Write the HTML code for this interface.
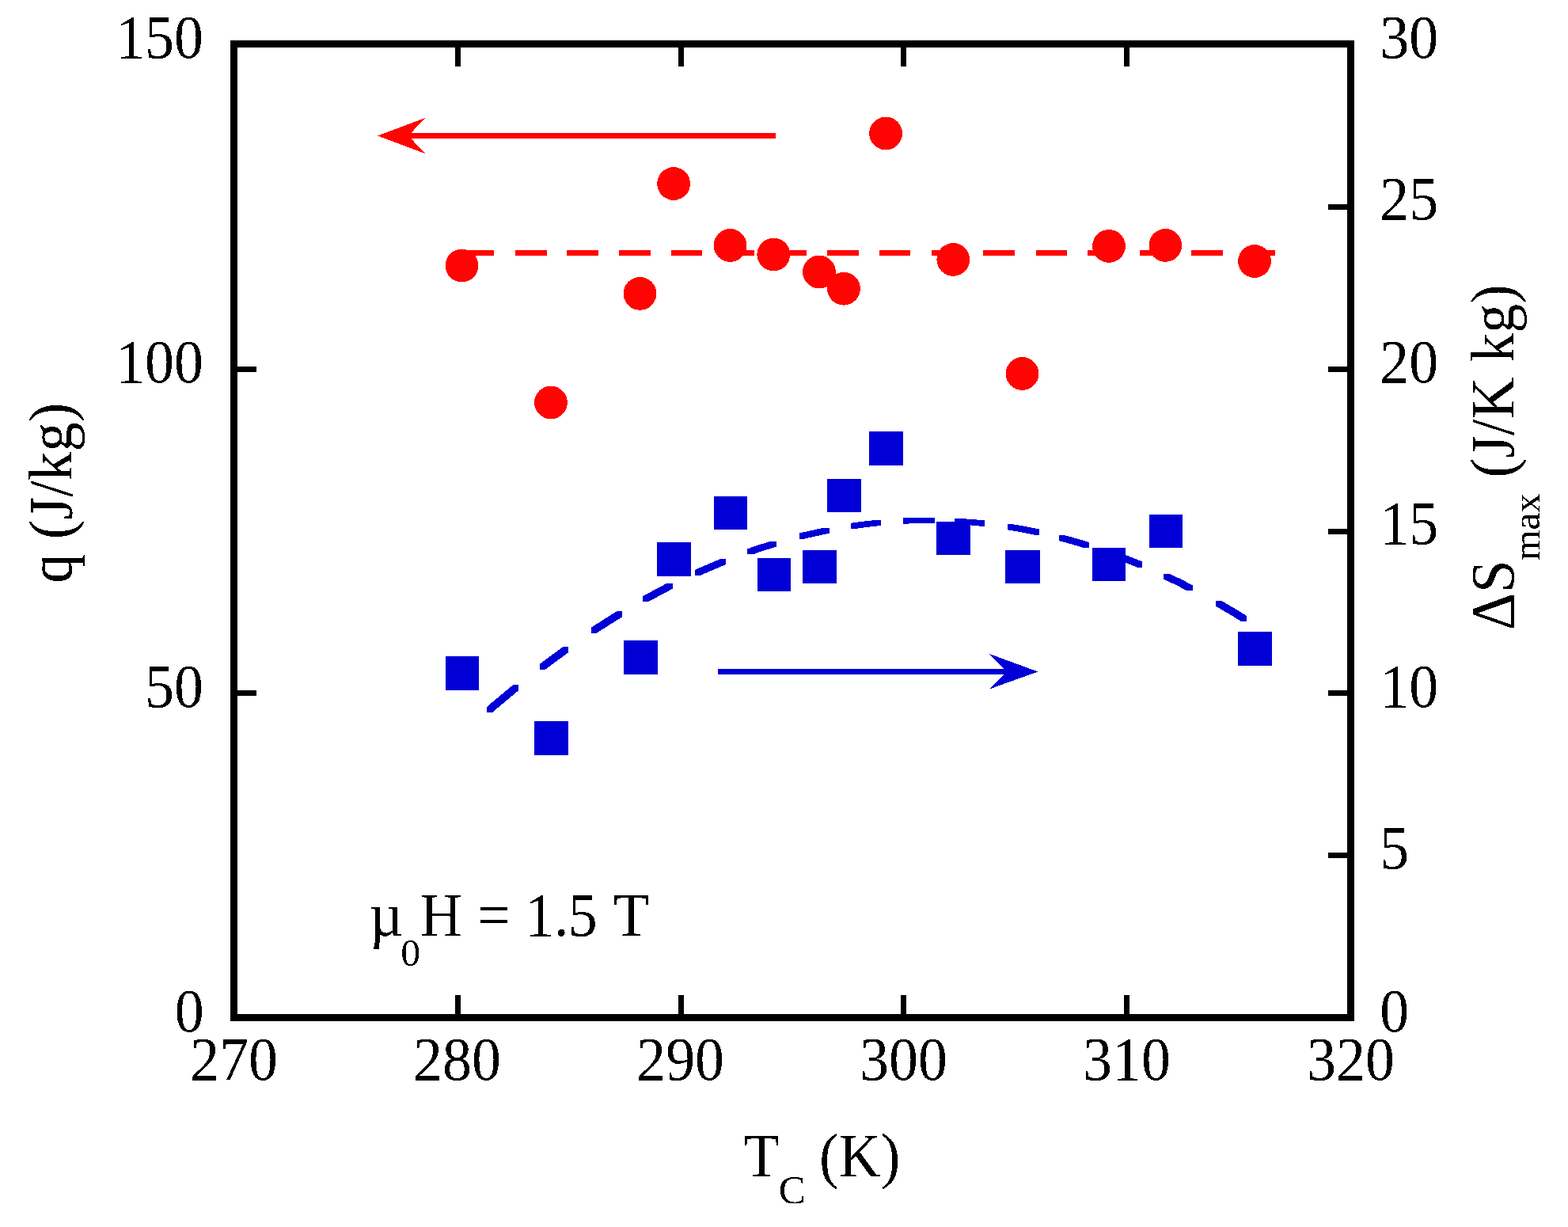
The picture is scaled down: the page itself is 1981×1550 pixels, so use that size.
<!DOCTYPE html>
<html lang="en">
<head>
<meta charset="utf-8">
<title>q and ΔSmax versus TC</title>
<style>
html,body{margin:0;padding:0;background:#fff;}
body{width:1981px;height:1550px;overflow:hidden;}
svg{display:block;}
</style>
</head>
<body>
<svg width="1981" height="1550" viewBox="0 0 1981 1550">
<rect x="0" y="0" width="1981" height="1550" fill="#fff"/>
<g shape-rendering="crispEdges">
<rect x="291" y="51" width="1420" height="9" fill="#000"/>
<rect x="291" y="1281" width="1420" height="9" fill="#000"/>
<rect x="291" y="51" width="9" height="1239" fill="#000"/>
<rect x="1702" y="51" width="9" height="1239" fill="#000"/>
<rect x="575" y="60" width="7" height="24" fill="#000"/>
<rect x="575" y="1257" width="7" height="24" fill="#000"/>
<rect x="857" y="60" width="7" height="24" fill="#000"/>
<rect x="857" y="1257" width="7" height="24" fill="#000"/>
<rect x="1138" y="60" width="7" height="24" fill="#000"/>
<rect x="1138" y="1257" width="7" height="24" fill="#000"/>
<rect x="1420" y="60" width="7" height="24" fill="#000"/>
<rect x="1420" y="1257" width="7" height="24" fill="#000"/>
<rect x="300" y="463" width="24" height="7" fill="#000"/>
<rect x="300" y="872" width="24" height="7" fill="#000"/>
<rect x="1678" y="258" width="24" height="7" fill="#000"/>
<rect x="1678" y="463" width="24" height="7" fill="#000"/>
<rect x="1678" y="668" width="24" height="7" fill="#000"/>
<rect x="1678" y="872" width="24" height="7" fill="#000"/>
<rect x="1678" y="1077" width="24" height="7" fill="#000"/>
</g>
<g shape-rendering="crispEdges">
<rect x="584" y="316" width="40" height="7" fill="#ff0402"/>
<rect x="651" y="316" width="40" height="7" fill="#ff0402"/>
<rect x="716" y="316" width="40" height="7" fill="#ff0402"/>
<rect x="782" y="316" width="40" height="7" fill="#ff0402"/>
<rect x="848" y="316" width="39" height="7" fill="#ff0402"/>
<rect x="913" y="316" width="40" height="7" fill="#ff0402"/>
<rect x="979" y="316" width="40" height="7" fill="#ff0402"/>
<rect x="1045" y="316" width="40" height="7" fill="#ff0402"/>
<rect x="1111" y="316" width="39" height="7" fill="#ff0402"/>
<rect x="1177" y="316" width="39" height="7" fill="#ff0402"/>
<rect x="1242" y="316" width="40" height="7" fill="#ff0402"/>
<rect x="1309" y="316" width="39" height="7" fill="#ff0402"/>
<rect x="1374" y="316" width="40" height="7" fill="#ff0402"/>
<rect x="1440" y="316" width="39" height="7" fill="#ff0402"/>
<rect x="1505" y="316" width="40" height="7" fill="#ff0402"/>
<rect x="1571" y="316" width="40" height="7" fill="#ff0402"/>
<rect x="515" y="168" width="465" height="7" fill="#ff0402"/>
<polygon points="477,171.5 537,149 516,171.5 537,194" fill="#ff0402"/>
<rect x="907" y="845" width="365" height="7" fill="#0000d6"/>
<polygon points="1311.3,848.5 1250,826 1272,848.5 1250,870.5" fill="#0000d6"/>
<path d="M615.0,893.1 L623.2,886.0 L630.2,886.0 L630.2,893.0 L622.0,900.1 L615.0,900.1Z M623.2,886.0 L631.5,879.0 L638.5,879.0 L638.5,886.0 L630.2,893.0 L623.2,893.0Z M631.5,879.0 L639.8,872.2 L646.8,872.2 L646.8,879.2 L638.5,886.0 L631.5,886.0Z M639.8,872.2 L648.0,865.4 L655.0,865.4 L655.0,872.4 L646.8,879.2 L639.8,879.2Z" fill="#0000d6"/>
<path d="M682.0,838.7 L689.2,833.3 L696.2,833.3 L696.2,840.3 L689.0,845.7 L682.0,845.7Z M689.2,833.3 L696.5,827.9 L703.5,827.9 L703.5,834.9 L696.2,840.3 L689.2,840.3Z M696.5,827.9 L703.8,822.6 L710.8,822.6 L710.8,829.6 L703.5,834.9 L696.5,834.9Z M703.8,822.6 L711.0,817.4 L718.0,817.4 L718.0,824.4 L710.8,829.6 L703.8,829.6Z" fill="#0000d6"/>
<path d="M747.0,792.7 L755.0,787.5 L762.0,787.5 L762.0,794.5 L754.0,799.7 L747.0,799.7Z M755.0,787.5 L763.0,782.4 L770.0,782.4 L770.0,789.4 L762.0,794.5 L755.0,794.5Z M763.0,782.4 L771.0,777.3 L778.0,777.3 L778.0,784.3 L770.0,789.4 L763.0,789.4Z M771.0,777.3 L779.0,772.4 L786.0,772.4 L786.0,779.4 L778.0,784.3 L771.0,784.3Z" fill="#0000d6"/>
<path d="M812.0,753.2 L819.8,749.0 L826.8,749.0 L826.8,756.0 L819.0,760.2 L812.0,760.2Z M819.8,749.0 L827.5,744.8 L834.5,744.8 L834.5,751.8 L826.8,756.0 L819.8,756.0Z M827.5,744.8 L835.2,740.7 L842.2,740.7 L842.2,747.7 L834.5,751.8 L827.5,751.8Z M835.2,740.7 L843.0,736.7 L850.0,736.7 L850.0,743.7 L842.2,747.7 L835.2,747.7Z" fill="#0000d6"/>
<path d="M878.0,719.9 L886.0,716.3 L893.0,716.3 L893.0,723.3 L885.0,726.9 L878.0,726.9Z M886.0,716.3 L894.0,712.9 L901.0,712.9 L901.0,719.9 L893.0,723.3 L886.0,723.3Z M894.0,712.9 L902.0,709.5 L909.0,709.5 L909.0,716.5 L901.0,719.9 L894.0,719.9Z M902.0,709.5 L910.0,706.2 L917.0,706.2 L917.0,713.2 L909.0,716.5 L902.0,716.5Z" fill="#0000d6"/>
<path d="M944.0,693.4 L951.5,690.8 L958.5,690.8 L958.5,697.8 L951.0,700.4 L944.0,700.4Z M951.5,690.8 L959.0,688.3 L966.0,688.3 L966.0,695.3 L958.5,697.8 L951.5,697.8Z M959.0,688.3 L966.5,685.9 L973.5,685.9 L973.5,692.9 L966.0,695.3 L959.0,695.3Z M966.5,685.9 L974.0,683.6 L981.0,683.6 L981.0,690.6 L973.5,692.9 L966.5,692.9Z" fill="#0000d6"/>
<path d="M1010.0,673.6 L1017.8,671.7 L1024.8,671.7 L1024.8,678.7 L1017.0,680.6 L1010.0,680.6Z M1017.8,671.7 L1025.5,670.0 L1032.5,670.0 L1032.5,677.0 L1024.8,678.7 L1017.8,678.7Z M1025.5,670.0 L1033.2,668.3 L1040.2,668.3 L1040.2,675.3 L1032.5,677.0 L1025.5,677.0Z M1033.2,668.3 L1041.0,666.7 L1048.0,666.7 L1048.0,673.7 L1040.2,675.3 L1033.2,675.3Z" fill="#0000d6"/>
<path d="M1075.0,660.8 L1082.8,659.7 L1089.8,659.7 L1089.8,666.7 L1082.0,667.8 L1075.0,667.8Z M1082.8,659.7 L1090.5,658.7 L1097.5,658.7 L1097.5,665.7 L1089.8,666.7 L1082.8,666.7Z M1090.5,658.7 L1098.2,657.8 L1105.2,657.8 L1105.2,664.8 L1097.5,665.7 L1090.5,665.7Z M1098.2,657.8 L1106.0,657.0 L1113.0,657.0 L1113.0,664.0 L1105.2,664.8 L1098.2,664.8Z" fill="#0000d6"/>
<path d="M1141.0,654.5 L1149.2,654.2 L1156.2,654.2 L1156.2,661.2 L1148.0,661.5 L1141.0,661.5Z M1149.2,654.2 L1157.5,654.0 L1164.5,654.0 L1164.5,661.0 L1156.2,661.2 L1149.2,661.2Z M1157.5,654.0 L1165.8,653.9 L1172.8,653.9 L1172.8,660.9 L1164.5,661.0 L1157.5,661.0Z M1165.8,653.9 L1172.8,653.9 L1181.0,653.9 L1181.0,660.9 L1174.0,660.9 L1165.8,660.9Z" fill="#0000d6"/>
<path d="M1206.0,655.0 L1213.0,655.0 L1220.8,655.5 L1220.8,662.5 L1213.8,662.5 L1206.0,662.0Z M1213.8,655.5 L1220.8,655.5 L1228.5,656.1 L1228.5,663.1 L1221.5,663.1 L1213.8,662.5Z M1221.5,656.1 L1228.5,656.1 L1236.2,656.7 L1236.2,663.7 L1229.2,663.7 L1221.5,663.1Z M1229.2,656.7 L1236.2,656.7 L1244.0,657.5 L1244.0,664.5 L1237.0,664.5 L1229.2,663.7Z" fill="#0000d6"/>
<path d="M1273.0,662.3 L1280.0,662.3 L1288.2,663.7 L1288.2,670.7 L1281.2,670.7 L1273.0,669.3Z M1281.2,663.7 L1288.2,663.7 L1296.5,665.2 L1296.5,672.2 L1289.5,672.2 L1281.2,670.7Z M1289.5,665.2 L1296.5,665.2 L1304.8,666.8 L1304.8,673.8 L1297.8,673.8 L1289.5,672.2Z M1297.8,666.8 L1304.8,666.8 L1313.0,668.5 L1313.0,675.5 L1306.0,675.5 L1297.8,673.8Z" fill="#0000d6"/>
<path d="M1338.0,676.2 L1345.0,676.2 L1352.8,678.3 L1352.8,685.3 L1345.8,685.3 L1338.0,683.2Z M1345.8,678.3 L1352.8,678.3 L1360.5,680.4 L1360.5,687.4 L1353.5,687.4 L1345.8,685.3Z M1353.5,680.4 L1360.5,680.4 L1368.2,682.7 L1368.2,689.7 L1361.2,689.7 L1353.5,687.4Z M1361.2,682.7 L1368.2,682.7 L1376.0,685.1 L1376.0,692.1 L1369.0,692.1 L1361.2,689.7Z" fill="#0000d6"/>
<path d="M1404.0,696.9 L1411.0,696.9 L1419.0,699.9 L1419.0,706.9 L1412.0,706.9 L1404.0,703.9Z M1412.0,699.9 L1419.0,699.9 L1427.0,703.0 L1427.0,710.0 L1420.0,710.0 L1412.0,706.9Z M1420.0,703.0 L1427.0,703.0 L1435.0,706.2 L1435.0,713.2 L1428.0,713.2 L1420.0,710.0Z M1428.0,706.2 L1435.0,706.2 L1443.0,709.5 L1443.0,716.5 L1436.0,716.5 L1428.0,713.2Z" fill="#0000d6"/>
<path d="M1470.0,724.5 L1477.0,724.5 L1484.5,728.1 L1484.5,735.1 L1477.5,735.1 L1470.0,731.5Z M1477.5,728.1 L1484.5,728.1 L1492.0,731.7 L1492.0,738.7 L1485.0,738.7 L1477.5,735.1Z M1485.0,731.7 L1492.0,731.7 L1499.5,735.5 L1499.5,742.5 L1492.5,742.5 L1485.0,738.7Z M1492.5,735.5 L1499.5,735.5 L1507.0,739.3 L1507.0,746.3 L1500.0,746.3 L1492.5,742.5Z" fill="#0000d6"/>
<path d="M1536.0,758.9 L1543.0,758.9 L1551.0,763.5 L1551.0,770.5 L1544.0,770.5 L1536.0,765.9Z M1544.0,763.5 L1551.0,763.5 L1559.0,768.2 L1559.0,775.2 L1552.0,775.2 L1544.0,770.5Z M1552.0,768.2 L1559.0,768.2 L1567.0,773.0 L1567.0,780.0 L1560.0,780.0 L1552.0,775.2Z M1560.0,773.0 L1567.0,773.0 L1575.0,778.0 L1575.0,785.0 L1568.0,785.0 L1560.0,780.0Z" fill="#0000d6"/>
<rect x="563" y="829" width="42" height="43" fill="#0000d6"/>
<rect x="675" y="911" width="43" height="43" fill="#0000d6"/>
<rect x="788" y="809" width="43" height="43" fill="#0000d6"/>
<rect x="830" y="685" width="43" height="43" fill="#0000d6"/>
<rect x="902" y="627" width="42" height="42" fill="#0000d6"/>
<rect x="957" y="705" width="42" height="42" fill="#0000d6"/>
<rect x="1014" y="695" width="43" height="42" fill="#0000d6"/>
<rect x="1045" y="605" width="43" height="42" fill="#0000d6"/>
<rect x="1098" y="545" width="43" height="43" fill="#0000d6"/>
<rect x="1183" y="659" width="43" height="42" fill="#0000d6"/>
<rect x="1270" y="695" width="44" height="42" fill="#0000d6"/>
<rect x="1380" y="692" width="42" height="42" fill="#0000d6"/>
<rect x="1452" y="650" width="42" height="42" fill="#0000d6"/>
<rect x="1564" y="798" width="43" height="43" fill="#0000d6"/>
<circle cx="583.5" cy="335.5" r="20.9" fill="#ff0402"/>
<circle cx="696" cy="508.5" r="20.9" fill="#ff0402"/>
<circle cx="808.5" cy="370.9" r="20.9" fill="#ff0402"/>
<circle cx="851.1" cy="232" r="20.9" fill="#ff0402"/>
<circle cx="922.5" cy="310" r="20.9" fill="#ff0402"/>
<circle cx="977.3" cy="321.5" r="20.9" fill="#ff0402"/>
<circle cx="1035" cy="343.5" r="20.9" fill="#ff0402"/>
<circle cx="1066" cy="364.7" r="20.9" fill="#ff0402"/>
<circle cx="1119.1" cy="168.5" r="20.9" fill="#ff0402"/>
<circle cx="1204.3" cy="327.9" r="20.9" fill="#ff0402"/>
<circle cx="1291.5" cy="472" r="20.9" fill="#ff0402"/>
<circle cx="1401" cy="310.9" r="20.9" fill="#ff0402"/>
<circle cx="1472.4" cy="309.9" r="20.9" fill="#ff0402"/>
<circle cx="1585" cy="330" r="20.9" fill="#ff0402"/>
</g>
<defs><filter id="bw" x="-5%" y="-5%" width="110%" height="110%" color-interpolation-filters="sRGB"><feComponentTransfer><feFuncA type="discrete" tableValues="0 1"/></feComponentTransfer></filter></defs>
<g font-family='"Liberation Serif", serif' fill="#000" style="white-space:pre" filter="url(#bw)">
<text transform="translate(257,73) scale(0.956,1)" font-size="77.3" text-anchor="end">150</text>
<text transform="translate(257,483) scale(0.956,1)" font-size="77.3" text-anchor="end">100</text>
<text transform="translate(257,893) scale(0.956,1)" font-size="77.3" text-anchor="end">50</text>
<text transform="translate(257.8,1303) scale(0.956,1)" font-size="77.3" text-anchor="end">0</text>
<text transform="translate(1743.2,73) scale(0.956,1)" font-size="77.3" text-anchor="start">30</text>
<text transform="translate(1743.2,277) scale(0.956,1)" font-size="77.3" text-anchor="start">25</text>
<text transform="translate(1743.2,483) scale(0.956,1)" font-size="77.3" text-anchor="start">20</text>
<text transform="translate(1743.2,687) scale(0.956,1)" font-size="77.3" text-anchor="start">15</text>
<text transform="translate(1743.2,893) scale(0.956,1)" font-size="77.3" text-anchor="start">10</text>
<text transform="translate(1743.2,1097) scale(0.956,1)" font-size="77.3" text-anchor="start">5</text>
<text transform="translate(1743.2,1303) scale(0.956,1)" font-size="77.3" text-anchor="start">0</text>
<text transform="translate(295.6,1364) scale(0.956,1)" font-size="77.3" text-anchor="middle">270</text>
<text transform="translate(577.5,1364) scale(0.956,1)" font-size="77.3" text-anchor="middle">280</text>
<text transform="translate(859.6,1364) scale(0.956,1)" font-size="77.3" text-anchor="middle">290</text>
<text transform="translate(1141.4,1364) scale(0.956,1)" font-size="77.3" text-anchor="middle">300</text>
<text transform="translate(1423.5,1364) scale(0.956,1)" font-size="77.3" text-anchor="middle">310</text>
<text transform="translate(1706.5,1364) scale(0.956,1)" font-size="77.3" text-anchor="middle">320</text>
<text transform="translate(939.5,1486) scale(0.956,1)" font-size="77.3" text-anchor="start">T</text>
<text transform="translate(983.7,1519.7) scale(1,1)" font-size="51" text-anchor="start">C</text>
<text transform="translate(1034.9,1486) scale(0.956,1)" font-size="77.3" text-anchor="start">(K)</text>
<text transform="translate(466.7,1182.4) scale(0.956,1)" font-size="77.3" text-anchor="start">µ</text>
<text transform="translate(506.2,1220.3) scale(1.04,1)" font-size="48" text-anchor="start">0</text>
<text transform="translate(530.6,1182.4) scale(0.956,1)" font-size="77.3" text-anchor="start" x="0.00 55.86 75.84 119.46 138.91 177.20 195.82 234.52 255.65">H = 1.5 T</text>
<text transform="translate(90.4,736.6) rotate(-90) scale(0.956,1)" font-size="77.3" text-anchor="start">q (J/kg)</text>
<text transform="translate(1912.1,796.3) rotate(-90) scale(0.956,1)" font-size="77.3" text-anchor="start">ΔS</text>
<text transform="translate(1945.2,708.1) rotate(-90) scale(1,1)" font-size="49.5" text-anchor="start">max</text>
<text transform="translate(1912.1,603.5) rotate(-90) scale(0.956,1)" font-size="77.3" text-anchor="start">(J/K kg)</text>
</g>
</svg>
</body>
</html>
